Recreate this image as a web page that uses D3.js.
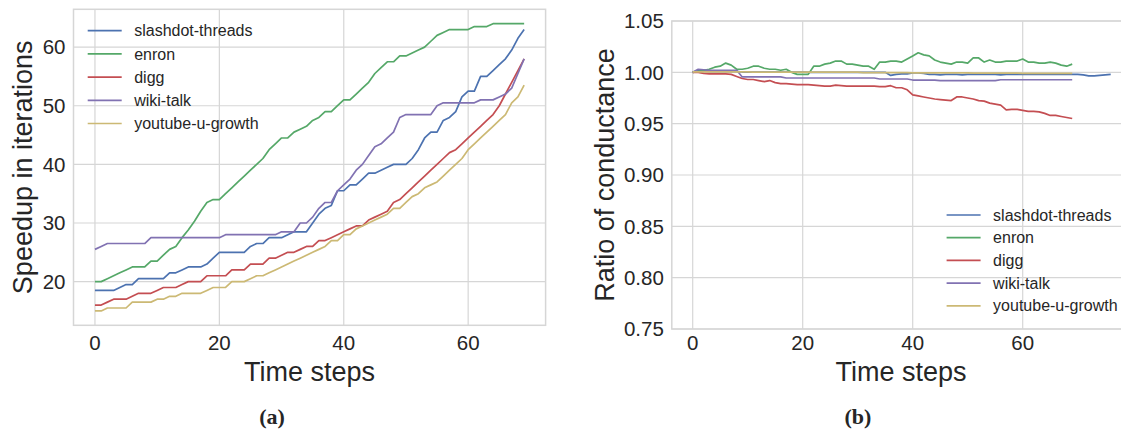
<!DOCTYPE html>
<html>
<head>
<meta charset="utf-8">
<script src="https://cdn.jsdelivr.net/npm/d3@7"></script>
<style>
  body { margin: 0; background: #fff; }
  svg { display: block; }
  text { font-family: "Liberation Sans", Arial, sans-serif; fill: #262626; }
</style>
</head>
<body>
<svg id="fig" width="1121" height="434"></svg>
<script>
var seriesNames = ["slashdot-threads", "enron", "digg", "wiki-talk", "youtube-u-growth"];
var seriesColors = ["#4C72B0", "#55A868", "#C44E52", "#8172B2", "#CCB974"];

// (a) speedup in iterations, time steps 0..69
var speedSlashdot = [18.5,18.5,18.5,18.5,19,19.5,19.5,20.5,20.5,20.5,20.5,20.5,21.5,21.5,22,22.5,22.5,22.5,23,24,
  25,25,25,25,25,26,26.5,26.5,27.5,27.5,27.5,28,28.5,28.5,28.5,30,31.5,32.5,33,35.5,
  35.5,36.5,36.5,37.5,38.5,38.5,39,39.5,40,40,40,41,42.5,44.5,45.5,45.5,47.5,48,49,51.5,
  52.5,52.5,55,55,56,57,58,59.5,61.5,63];
var speedEnron = [20,20,20.5,21,21.5,22,22.5,22.5,22.5,23.5,23.5,24.5,25.5,26,27.5,28.8,30.3,32,33.5,34,
  34,35,36,37,38,39,40,41,42.5,43.5,44.5,44.5,45.5,46,46.5,47.5,48,49,49,50,
  51,51,52,53,54,55.5,56.5,57.5,57.5,58.5,58.5,59,59.5,60,61,62,62.5,63,63,63,
  63,63.5,63.5,63.5,64,64,64,64,64,64];
var speedDigg = [16,16,16.5,17,17,17,17.5,18,18,18,18.5,19,19,19,19.5,20,20,20,21,21,
  21,21,22,22,22,23,23,23,24,24,24.5,25,25,25.5,26,26,27,27,27.5,28,
  28.5,29,29.5,29.5,30.5,31,31.5,32,33.5,34,35,36,37,38,39,40,41,42,42.5,43.5,
  44.5,45.5,46.5,47.5,48.5,50,52,54,56,58];
var speedWiki = [25.5,26,26.5,26.5,26.5,26.5,26.5,26.5,26.5,27.5,27.5,27.5,27.5,27.5,27.5,27.5,27.5,27.5,27.5,27.5,
  27.5,28,28,28,28,28,28,28,28,28,28.5,28.5,28.5,30,30,31,32.5,33.5,33.5,35.5,
  36.5,37.5,39,40,41.5,43,43.5,44.5,45.5,48,48.5,48.5,48.5,48.5,48.5,50,50.5,50.5,50.5,50.5,
  50.5,50.5,51,51,51,51.5,52,53,55.5,58];
var speedYoutube = [15,15,15.5,15.5,15.5,15.5,16.5,16.5,16.5,16.5,17,17,17.5,17.5,18,18,18,18,18.5,19,
  19,19,20,20,20,20.5,21,21,21.5,22,22.5,23,23.5,24,24.5,25,25.5,26,27,27,
  28,28,29,29.5,30,30.5,31,31.5,32.5,32.5,33.5,34.5,35,36,36.5,37,38,39,40,41,
  42.5,43.5,44.5,45.5,46.5,47.5,48.5,50.5,51.5,53.5];

// (b) ratio of conductance
var condSlashdot = [1.000,1.002,1.0015,1.001,1.001,1.001,1.001,1.001,1.001,1.0003,1.0003,1.0003,1.0003,1.0003,1.0003,1.0003,1.0003,1.0003,1.0003,1.0003,
  1.0003,1.000,1.000,1.000,1.000,1.000,1.000,1.000,1.000,1.000,1.000,1.000,1.000,1.000,1.000,1.000,0.997,0.998,0.9985,0.9985,
  0.9995,0.9995,0.999,0.998,0.998,0.9975,0.998,0.998,0.998,0.9975,0.998,0.998,0.998,0.998,0.998,0.998,0.9975,0.998,0.998,0.998,
  0.998,0.998,0.998,0.998,0.998,0.998,0.998,0.998,0.998,0.998,0.998,0.9975,0.9965,0.9965,0.997,0.9975,0.998];
var condEnron = [1.000,1.001,1.002,1.003,1.005,1.006,1.009,1.007,1.003,1.003,1.004,1.006,1.006,1.004,1.003,1.003,1.002,1.003,1.000,0.998,
  0.998,0.998,1.006,1.006,1.008,1.009,1.011,1.011,1.008,1.008,1.007,1.006,1.006,1.003,1.010,1.010,1.011,1.011,1.010,1.013,
  1.016,1.019,1.017,1.016,1.012,1.010,1.009,1.008,1.010,1.010,1.009,1.014,1.014,1.010,1.012,1.010,1.010,1.011,1.011,1.011,
  1.013,1.010,1.010,1.009,1.009,1.010,1.009,1.007,1.006,1.008];
var condDigg = [1.000,1.000,0.999,0.9985,0.9985,0.9985,0.9985,0.998,0.996,0.994,0.993,0.993,0.992,0.991,0.992,0.990,0.989,0.989,0.9885,0.988,
  0.988,0.988,0.9875,0.987,0.9865,0.9865,0.9875,0.987,0.9865,0.9865,0.9865,0.9865,0.9865,0.9865,0.986,0.986,0.987,0.985,0.985,0.983,
  0.978,0.977,0.976,0.975,0.974,0.9735,0.973,0.9725,0.976,0.976,0.975,0.974,0.9725,0.972,0.970,0.969,0.968,0.9635,0.964,0.964,
  0.963,0.962,0.962,0.9615,0.960,0.958,0.958,0.957,0.956,0.955];
var condWiki = [1.000,1.003,1.0025,1.002,1.002,1.002,1.002,1.002,1.002,0.9955,0.9955,0.9955,0.9955,0.9955,0.9955,0.9955,0.9955,0.9945,0.9945,0.9945,
  0.9945,0.9945,0.9945,0.9945,0.9945,0.9945,0.9945,0.9945,0.9945,0.9945,0.9945,0.9945,0.9945,0.9945,0.9935,0.9935,0.9935,0.9935,0.9935,0.9935,
  0.9925,0.9925,0.9925,0.9925,0.9925,0.992,0.992,0.992,0.992,0.992,0.992,0.992,0.992,0.992,0.992,0.992,0.9928,0.9928,0.9928,0.9928,
  0.9928,0.9928,0.9928,0.9928,0.9928,0.9928,0.9928,0.9928,0.9928,0.9928];
var condYoutube = [1.0005,1.0005,1.0005,1.0005,1.0005,1.0005,1.0005,1.0005,1.0005,1.0005,1.0005,1.0002,1.0002,1.0002,1.0002,1.0002,1.0002,1.0002,1.0002,1.0002,
  1.0002,1.0002,1.0002,1.0002,1.0002,1.0002,1.0002,1.0002,1.0002,1.0002,1.0002,0.9998,0.9998,0.9998,0.9998,0.9998,0.9998,0.9998,0.9998,0.9998,
  0.9995,0.9995,0.9995,0.9995,0.9995,0.9995,0.9995,0.9995,0.9995,0.9995,0.9995,0.9992,0.9992,0.9992,0.9992,0.9992,0.9992,0.9992,0.9992,0.9992,
  0.999,0.999,0.999,0.999,0.999,0.999,0.999,0.999,0.999,0.999];

var speedTicksY = [20, 30, 40, 50, 60];
var condTicksY = [0.75, 0.80, 0.85, 0.90, 0.95, 1.00, 1.05];
var stepTicks = [0, 20, 40, 60];

var svg = d3.select("#fig");
var gridColor = "#d6d6d6";

function drawPanel(p) {
    var x = d3.scaleLinear().domain(p.xDomain).range([p.left, p.right]);
    var y = d3.scaleLinear().domain(p.yDomain).range([p.bottom, p.top]);
    var g = svg.append("g");

    // grid + frame (right panel runs past the page edge, as in the original)
    g.selectAll(".gx").data(stepTicks).enter().append("line")
        .attr("x1", d => x(d)).attr("x2", d => x(d))
        .attr("y1", p.top).attr("y2", p.bottom)
        .attr("stroke", gridColor).attr("stroke-width", 1.2);
    g.selectAll(".gy").data(p.yTicks).enter().append("line")
        .attr("x1", p.left).attr("x2", p.right)
        .attr("y1", d => y(d)).attr("y2", d => y(d))
        .attr("stroke", gridColor).attr("stroke-width", 1.2);
    g.append("rect")
        .attr("x", p.left).attr("y", p.top)
        .attr("width", p.right - p.left).attr("height", p.bottom - p.top)
        .attr("fill", "none").attr("stroke", gridColor).attr("stroke-width", 1.5);

    var line = d3.line().x((d, i) => x(i)).y(d => y(d));
    p.series.forEach(function(s, k) {
        g.append("path").datum(s)
            .attr("d", line)
            .attr("fill", "none")
            .attr("stroke", seriesColors[k])
            .attr("stroke-width", 1.7)
            .attr("stroke-linejoin", "round");
    });

    // tick labels
    g.selectAll(".tx").data(stepTicks).enter().append("text")
        .attr("x", d => x(d)).attr("y", 350)
        .attr("text-anchor", "middle")
        .style("font-size", "20.5px")
        .text(d => d);
    g.selectAll(".ty").data(p.yTicks).enter().append("text")
        .attr("x", p.left - 8).attr("y", d => y(d))
        .attr("dy", "0.36em")
        .attr("text-anchor", "end")
        .style("font-size", "20.5px")
        .text(p.yFormat);

    g.append("text")
        .attr("x", p.xLabelX).attr("y", 381)
        .attr("text-anchor", "middle")
        .style("font-size", "27px")
        .text("Time steps");
    g.append("text")
        .attr("transform", "translate(" + p.yLabelX + "," + ((p.top + p.bottom) / 2) + ") rotate(-90)")
        .attr("text-anchor", "middle")
        .style("font-size", "27px")
        .text(p.yLabel);

    // legend
    seriesNames.forEach(function(name, k) {
        var ly = p.legendY + k * p.legendStep;
        g.append("line")
            .attr("x1", p.legendX).attr("x2", p.legendX + 34)
            .attr("y1", ly).attr("y2", ly)
            .attr("stroke", seriesColors[k]).attr("stroke-width", 1.7);
        g.append("text")
            .attr("x", p.legendX + 46.5).attr("y", ly)
            .attr("dy", "0.35em")
            .style("font-size", "16px")
            .text(name);
    });

    svg.append("text")
        .attr("x", p.captionX).attr("y", 424)
        .attr("text-anchor", "middle")
        .style("font-family", "'Liberation Serif', 'DejaVu Serif', serif")
        .style("font-weight", "bold")
        .style("font-size", "22px")
        .text(p.caption);
}

drawPanel({
    left: 73.5, right: 545.6, top: 9.3, bottom: 325.3, xLabelX: 309.5,
    xDomain: [-3.45, 72.45], yDomain: [12.55, 66.45],
    yTicks: speedTicksY, yFormat: d => d,
    yLabel: "Speedup in iterations", yLabelX: 32,
    series: [speedSlashdot, speedEnron, speedDigg, speedWiki, speedYoutube],
    legendX: 87.7, legendY: 30.7, legendStep: 23.2,
    caption: "(a)", captionX: 272
});

drawPanel({
    left: 671.8, right: 1131.6, top: 21, bottom: 329, xLabelX: 901,
    xDomain: [-3.8, 79.8], yDomain: [0.75, 1.05],
    yTicks: condTicksY, yFormat: d => d3.format(".2f")(d),
    yLabel: "Ratio of conductance", yLabelX: 614,
    series: [condSlashdot, condEnron, condDigg, condWiki, condYoutube],
    legendX: 946.6, legendY: 215, legendStep: 22.7,
    caption: "(b)", captionX: 858
});
</script>
</body>
</html>
